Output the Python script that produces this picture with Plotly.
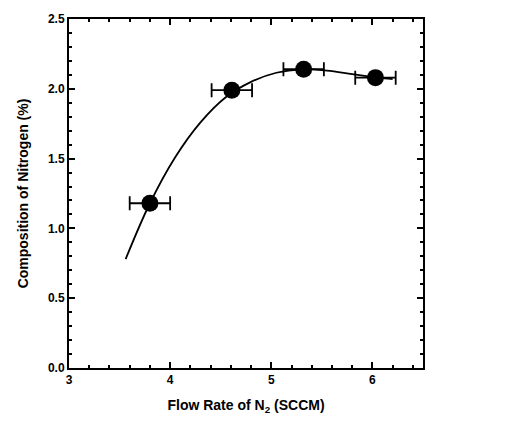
import plotly.graph_objects as go

# Measured data points
flow_rate = [3.80, 4.61, 5.32, 6.03]
nitrogen = [1.18, 1.99, 2.14, 2.08]
flow_err = [0.2, 0.2, 0.2, 0.2]

# Fitted curve
curve_x = [3.56, 3.80, 4.05, 4.30, 4.55, 4.80, 5.05, 5.30, 5.55, 5.80, 6.05, 6.20]
curve_y = [0.78, 1.18, 1.51, 1.76, 1.94, 2.05, 2.115, 2.14, 2.13, 2.105, 2.08, 2.07]

x_ticks = [3, 4, 5, 6]
y_ticks = [0.0, 0.5, 1.0, 1.5, 2.0, 2.5]

font_family = "Liberation Sans, Arial, sans-serif"

fig = go.Figure()
fig.add_trace(go.Scatter(
    x=curve_x, y=curve_y, mode="lines",
    line=dict(color="black", width=1.8, shape="spline", smoothing=1.0),
    showlegend=False, hoverinfo="skip"))
fig.add_trace(go.Scatter(
    x=flow_rate, y=nitrogen, mode="markers",
    marker=dict(color="black", size=17),
    error_x=dict(type="data", array=flow_err, color="black", thickness=1.8, width=7),
    showlegend=False))

axis_common = dict(
    showline=True, linecolor="black", linewidth=2, mirror="ticks",
    ticks="inside", ticklen=6, tickwidth=2, tickcolor="black",
    showgrid=False, zeroline=False,
    tickfont=dict(family=font_family, size=12, color="black", weight="bold"),
)

fig.update_xaxes(
    range=[3, 6.5], tickvals=x_ticks, ticktext=[str(v) for v in x_ticks],
    minor=dict(dtick=0.2, ticks="inside", ticklen=3, tickwidth=1.5, tickcolor="black", showgrid=False),
    title=dict(text="Flow Rate of N<sub>2</sub> (SCCM)",
               font=dict(family=font_family, size=14, color="black", weight="bold"), standoff=14),
    **axis_common)
fig.update_yaxes(
    range=[0, 2.5], tickvals=y_ticks, ticktext=[f"{v:.1f}" for v in y_ticks],
    minor=dict(dtick=0.1, ticks="inside", ticklen=3, tickwidth=1.5, tickcolor="black", showgrid=False),
    title=dict(text="Composition of Nitrogen (%)",
               font=dict(family=font_family, size=14, color="black", weight="bold"), standoff=16),
    **axis_common)

fig.update_layout(
    width=521, height=423,
    margin=dict(l=69, r=98, t=14, b=52),
    paper_bgcolor="white", plot_bgcolor="white",
)

fig.write_html("out.html")
